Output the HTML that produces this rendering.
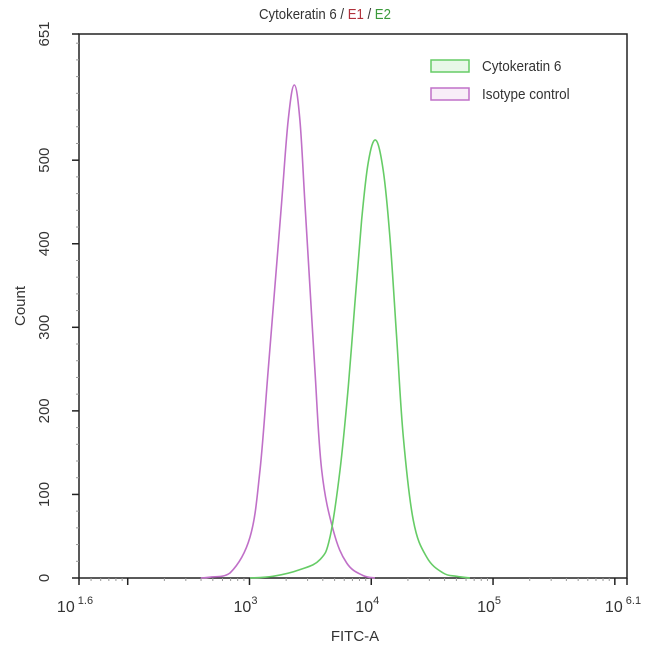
<!DOCTYPE html>
<html><head><meta charset="utf-8"><style>
html,body{margin:0;padding:0;background:#fff;}
svg{display:block;font-family:"Liberation Sans",sans-serif;}
</style></head><body>
<svg id="chart" width="650" height="655" viewBox="0 0 650 655">
<text x="325" y="19" text-anchor="middle" font-size="15" fill="#333" transform="translate(325,0) scale(0.88,1) translate(-325,0)"><tspan fill="#333">Cytokeratin 6 / </tspan><tspan fill="#b0303a">E1</tspan><tspan fill="#333"> / </tspan><tspan fill="#3a9a3a">E2</tspan></text>
<g id="axes"></g>
<g id="series"></g>
<g>
<rect x="431" y="60" width="38" height="12" fill="#e8f8e8" stroke="#66cc66" stroke-width="1.5"/>
<text x="482" y="71" font-size="15" fill="#333" transform="translate(482,0) scale(0.9,1) translate(-482,0)">Cytokeratin 6</text>
<rect x="431" y="88" width="38" height="12" fill="#f8eef8" stroke="#c070c8" stroke-width="1.5"/>
<text x="482" y="99" font-size="15" fill="#333" transform="translate(482,0) scale(0.9,1) translate(-482,0)">Isotype control</text>
</g>
<text x="355" y="641" text-anchor="middle" font-size="15" fill="#333">FITC-A</text>
<text transform="translate(25,306) rotate(-90)" text-anchor="middle" font-size="15" fill="#333">Count</text>
</svg>
<script>
const isoLog=[2.60,2.676,2.84,3.004,3.086,3.154,3.209,3.264,3.318,3.368,3.414,3.455,3.496,3.537,3.593,3.688,3.798,3.932,4.03];
const isoCount=[0,1,6,49,129,249,349,449,548,590,548,449,349,249,129,57,18,3,0];
const ckLog=[3.004,3.193,3.414,3.579,3.661,3.743,3.811,3.866,3.921,3.975,4.036,4.098,4.153,4.208,4.263,4.345,4.455,4.591,4.701,4.81];
const ckCount=[0,2,10,22,49,129,229,329,428,497,524,488,408,289,169,69,25,6,2,0];
const yTicks=[0,100,200,300,400,500,651];
const xTickExp=[1.6,3,4,5,6.1];
const xTickLabels=["1.6","3","4","5","6.1"];

const L=79,R=627,T=34,B=578,xMin=1.6,xMax=6.1,yMax=651;
const NS="http://www.w3.org/2000/svg";
function xs(v){return L+(v-xMin)/(xMax-xMin)*(R-L);}
function ys(v){return B-v/yMax*(B-T);}
const axes=document.getElementById('axes'),ser=document.getElementById('series');
function mk(t,a,p){const e=document.createElementNS(NS,t);for(const k in a)e.setAttribute(k,a[k]);p.appendChild(e);return e;}

const frame=mk('rect',{x:L,y:T,width:R-L,height:B-T,fill:'none',stroke:'#222','stroke-width':1.5},axes);


for(let v=0;v<=yMax;v+=20){const t=mk('line',{x1:L-3,x2:L,y1:ys(v),y2:ys(v),stroke:'#999','stroke-width':1},axes);

}
yTicks.forEach(v=>{const t=mk('line',{x1:L-7,x2:L,y1:ys(v),y2:ys(v),stroke:'#222','stroke-width':1.5},axes);


const tx=mk('text',{transform:`translate(${L-30},${ys(v)}) rotate(-90)`,'text-anchor':'middle','font-size':15,fill:'#333'},axes);
tx.textContent=String(v);

});
for(let d=1;d<=6;d++){for(let m=1;m<=9;m++){const lv=d+Math.log10(m);if(lv<xMin||lv>xMax)continue;
const t=mk('line',{x1:xs(lv),x2:xs(lv),y1:B,y2:B+(m===1?7:3),stroke:m===1?'#222':'#999','stroke-width':m===1?1.5:1},axes);

}}
[xMin,xMax].forEach(lv=>{const t=mk('line',{x1:xs(lv),x2:xs(lv),y1:B,y2:B+7,stroke:'#222','stroke-width':1.5},axes);

});
xTickExp.forEach((lv,i)=>{const tx=mk('text',{x:xs(lv)-4,y:B+34,'text-anchor':'middle','font-size':16,fill:'#333'},axes);
tx.textContent='10';
const s=mk('tspan',{dy:-8,'font-size':11},tx);s.textContent=(xTickLabels[i].length>1?' ':'')+xTickLabels[i];

});
function line(lx,cy,col,name){
const P=lx.map((v,i)=>[xs(v),ys(cy[i])]);
let d='M'+P[0][0].toFixed(1)+','+P[0][1].toFixed(1);
const k=0.18;
for(let i=0;i<P.length-1;i++){const p0=P[Math.max(0,i-1)],p1=P[i],p2=P[i+1],p3=P[Math.min(P.length-1,i+2)];
const c1=[p1[0]+(p2[0]-p0[0])*k,p1[1]+(p2[1]-p0[1])*k],c2=[p2[0]-(p3[0]-p1[0])*k,p2[1]-(p3[1]-p1[1])*k];
c1[1]=Math.min(c1[1],B);c2[1]=Math.min(c2[1],B);
d+=` C${c1[0].toFixed(1)},${c1[1].toFixed(1)} ${c2[0].toFixed(1)},${c2[1].toFixed(1)} ${p2[0].toFixed(1)},${p2[1].toFixed(1)}`;}
const p=mk('path',{d:d,fill:'none',stroke:col,'stroke-width':1.6,'stroke-linejoin':'round'},ser);

}
line(isoLog,isoCount,'#c070c8','isotype-control-curve');
line(ckLog,ckCount,'#66cc66','cytokeratin-6-curve');
</script>
</body></html>
